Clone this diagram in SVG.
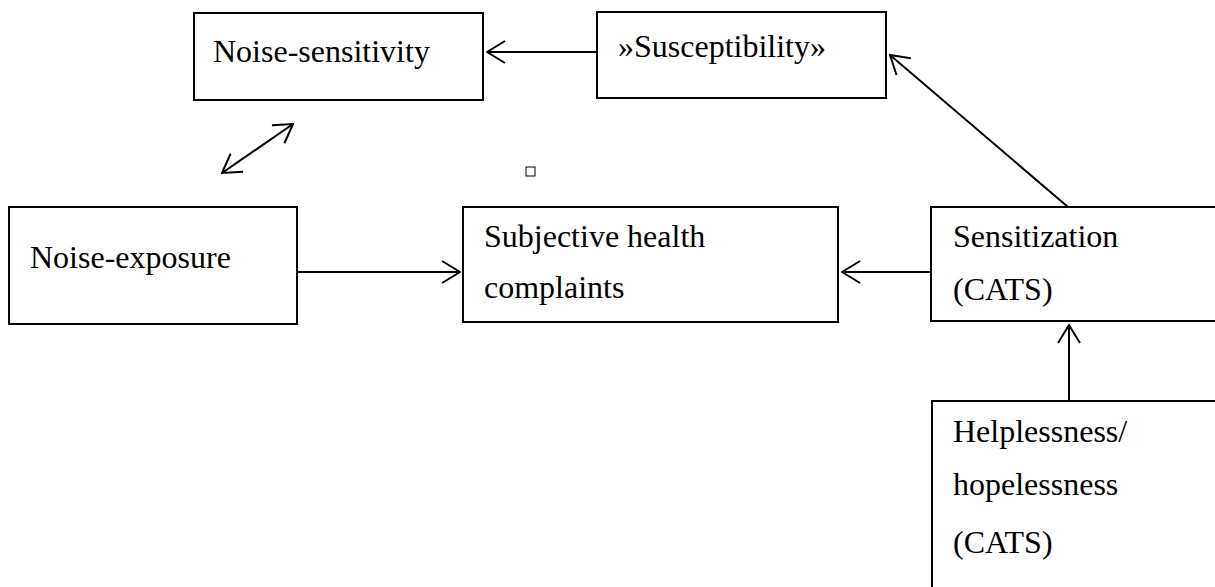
<svg xmlns="http://www.w3.org/2000/svg" width="1215" height="587" viewBox="0 0 1215 587">
<style>
.box{fill:#fff;stroke:#000;stroke-width:2}
.t{font-family:"Liberation Serif","Times New Roman",serif;font-size:32px;fill:#000}
.c{stroke:#000;stroke-width:2;fill:none}
</style>
<defs>
<marker id="ah" viewBox="0 0 20 24" refX="19" refY="12" markerWidth="20" markerHeight="24" markerUnits="userSpaceOnUse" orient="auto-start-reverse">
<path d="M1,1 L19,12 L1,23" fill="none" stroke="#000" stroke-width="2"/>
</marker>
</defs>
<rect width="1215" height="587" fill="#fff"/>
<g id="noise-sensitivity"><rect class="box" x="194" y="13" width="289" height="87"/><text class="t" x="213" y="62">Noise-sensitivity</text></g>
<g id="susceptibility"><rect class="box" x="597" y="12" width="289" height="86"/><text class="t" x="618" y="57">»Susceptibility»</text></g>
<g id="noise-exposure"><rect class="box" x="9" y="207" width="288" height="117"/><text class="t" x="30" y="268">Noise-exposure</text></g>
<g id="subjective"><rect class="box" x="463" y="207" width="375" height="115"/><text class="t" x="484" y="247">Subjective health</text><text class="t" x="484" y="298">complaints</text></g>
<g id="sensitization"><rect class="box" x="931" y="207" width="290" height="114"/><text class="t" x="953" y="247">Sensitization</text><text class="t" x="953" y="300">(CATS)</text></g>
<g id="helplessness"><rect class="box" x="932" y="401" width="290" height="200"/><text class="t" x="953" y="442">Helplessness/</text><text class="t" x="953" y="495">hopelessness</text><text class="t" x="953" y="553">(CATS)</text></g>
<rect x="526" y="167" width="9" height="9" fill="none" stroke="#000" stroke-width="1"/>
<g id="connectors">
<line class="c" x1="597" y1="52" x2="487" y2="52" marker-end="url(#ah)"/>
<line class="c" x1="1068" y1="207" x2="890" y2="55" marker-end="url(#ah)"/>
<line class="c" x1="222" y1="173" x2="293" y2="124" marker-start="url(#ah)" marker-end="url(#ah)"/>
<line class="c" x1="297" y1="272" x2="460" y2="272" marker-end="url(#ah)"/>
<line class="c" x1="931" y1="272" x2="842" y2="272" marker-end="url(#ah)"/>
<line class="c" x1="1069" y1="401" x2="1069" y2="325" marker-end="url(#ah)"/>
</g>
</svg>
